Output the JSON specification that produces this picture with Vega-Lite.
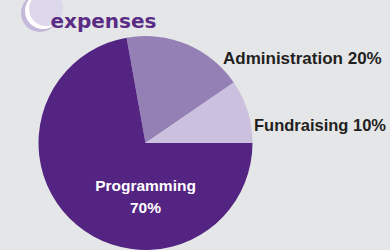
{
  "$schema": "https://vega.github.io/schema/vega-lite/v6.json",
  "width": 390,
  "height": 250,
  "padding": 0,
  "autosize": {"type": "none"},
  "background": "#e5e6e8",
  "config": {"view": {"stroke": null}},
  "data": {
    "values": [
      {"category": "Administration", "share": 18.27, "label": "Administration 20%"},
      {"category": "Fundraising", "share": 9.56, "label": "Fundraising 10%"},
      {"category": "Programming", "share": 72.17, "label": "Programming\n70%"}
    ]
  },
  "layer": [
    {
      "mark": {"type": "arc", "outerRadius": 107},
      "encoding": {
        "x": {"datum": 0, "type": "quantitative", "scale": {"domain": [-1.3598, 2.285], "nice": false, "zero": false}, "axis": null},
        "y": {"datum": 0, "type": "quantitative", "scale": {"domain": [-1.0, 1.3364], "nice": false, "zero": false}, "axis": null},
        "theta": {"field": "share", "type": "quantitative", "stack": true, "scale": {"range": [-0.1778, 6.1054]}},
        "color": {"field": "category", "type": "nominal", "scale": {"domain": ["Administration", "Fundraising", "Programming"], "range": ["#9580b5", "#cbc1de", "#542483"]}, "legend": null},
        "order": {"field": "category", "sort": "ascending"}
      }
    },
    {
      "data": {"values": [{"part": "shadow"}]},
      "mark": {"type": "point", "shape": "circle", "filled": true, "opacity": 1, "size": 1444, "color": "#c4b9da"},
      "encoding": {
        "x": {"datum": -0.9860, "type": "quantitative"},
        "y": {"datum": 1.2150, "type": "quantitative"}
      }
    },
    {
      "data": {"values": [{"part": "ring"}]},
      "mark": {"type": "point", "shape": "circle", "filled": true, "opacity": 1, "size": 1296, "color": "#ffffff"},
      "encoding": {
        "x": {"datum": -0.9579, "type": "quantitative"},
        "y": {"datum": 1.2336, "type": "quantitative"}
      }
    },
    {
      "data": {"values": [{"part": "disk"}]},
      "mark": {"type": "point", "shape": "circle", "filled": true, "opacity": 1, "size": 1156, "color": "#ddd7eb"},
      "encoding": {
        "x": {"datum": -0.9299, "type": "quantitative"},
        "y": {"datum": 1.2523, "type": "quantitative"}
      }
    },
    {
      "data": {"values": [{"title": "expenses"}]},
      "mark": {"type": "text", "align": "left", "baseline": "alphabetic", "font": "DejaVu Sans", "fontWeight": "bold", "fontSize": 20, "color": "#5b2c86"},
      "encoding": {
        "text": {"field": "title"},
        "x": {"datum": -0.888, "type": "quantitative"},
        "y": {"datum": 1.072, "type": "quantitative"}
      }
    },
    {
      "transform": [{"filter": "datum.category === 'Administration'"}],
      "mark": {"type": "text", "align": "right", "baseline": "alphabetic", "font": "Liberation Sans", "fontWeight": "bold", "fontSize": 17, "color": "#231f20"},
      "encoding": {
        "text": {"field": "label"},
        "x": {"datum": 2.2075, "type": "quantitative"},
        "y": {"datum": 0.7383, "type": "quantitative"}
      }
    },
    {
      "transform": [{"filter": "datum.category === 'Fundraising'"}],
      "mark": {"type": "text", "align": "right", "baseline": "alphabetic", "font": "Liberation Sans", "fontWeight": "bold", "fontSize": 16.5, "color": "#231f20"},
      "encoding": {
        "text": {"field": "label"},
        "x": {"datum": 2.2477, "type": "quantitative"},
        "y": {"datum": 0.115, "type": "quantitative"}
      }
    },
    {
      "transform": [{"filter": "datum.category === 'Programming'"}],
      "mark": {"type": "text", "align": "center", "baseline": "alphabetic", "lineBreak": "\n", "lineHeight": 21.7, "font": "Liberation Sans", "fontWeight": "bold", "fontSize": 15.5, "color": "#ffffff"},
      "encoding": {
        "text": {"field": "label"},
        "x": {"datum": 0, "type": "quantitative"},
        "y": {"datum": -0.4486, "type": "quantitative"}
      }
    }
  ]
}
